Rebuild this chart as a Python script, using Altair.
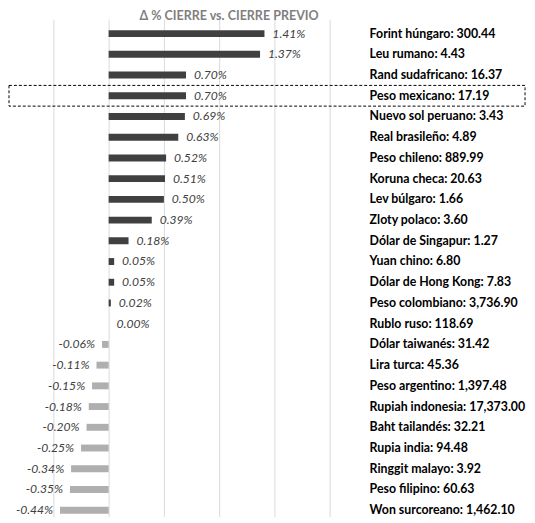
import altair as alt
import pandas as pd

names = ["Forint húngaro", "Leu rumano", "Rand sudafricano", "Peso mexicano",
         "Nuevo sol peruano", "Real brasileño", "Peso chileno", "Koruna checa",
         "Lev búlgaro", "Zloty polaco", "Dólar de Singapur", "Yuan chino",
         "Dólar de Hong Kong", "Peso colombiano", "Rublo ruso", "Dólar taiwanés",
         "Lira turca", "Peso argentino", "Rupiah indonesia", "Baht tailandés",
         "Rupia india", "Ringgit malayo", "Peso filipino", "Won surcoreano"]
prices = [300.44, 4.43, 16.37, 17.19, 3.43, 4.89, 889.99, 20.63, 1.66, 3.60,
          1.27, 6.80, 7.83, 3736.90, 118.69, 31.42, 45.36, 1397.48, 17373.00,
          32.21, 94.48, 3.92, 60.63, 1462.10]
changes = [1.41, 1.37, 0.70, 0.70, 0.69, 0.63, 0.52, 0.51, 0.50, 0.39, 0.18,
           0.05, 0.05, 0.02, 0.00, -0.06, -0.11, -0.15, -0.18, -0.20, -0.25,
           -0.34, -0.35, -0.44]
highlight = "Peso mexicano"
title_text = "Δ % CIERRE vs. CIERRE PREVIO"
grid_values = [-0.5, 0, 0.5, 1.0, 1.5, 2.0]

labels = [f"{n}: {p:,.2f}" for n, p in zip(names, prices)]
df = pd.DataFrame({
    "name": names,
    "label": labels,
    "change": changes,
    "pct": [f"{c:.2f}%" for c in changes],
})

FONT = "Lato"

base = alt.Chart(df).encode(
    y=alt.Y("label:N", sort=labels,
            scale=alt.Scale(range=[0, 504], paddingInner=0, paddingOuter=0),
            axis=alt.Axis(orient="right", title=None, grid=False, ticks=False,
                          domain=False, labelFont=FONT, labelFontSize=12.5,
                          labelFontWeight="bold", labelColor="#000000",
                          labelAlign="left", labelPadding=40, labelLimit=400,
                          labelBaseline="middle")),
    x=alt.X("change:Q",
            scale=alt.Scale(domain=[-0.5, 2.0], nice=False, zero=False),
            axis=alt.Axis(values=grid_values, grid=True, labels=False,
                          ticks=False, domain=False, title=None,
                          gridColor="#d9d9d9", gridWidth=1)),
)

bars = base.mark_bar(size=7).encode(
    color=alt.condition(alt.datum.change >= 0, alt.value("#404040"),
                        alt.value("#afafaf"))
)

pos_text = base.transform_filter(alt.datum.change >= 0).mark_text(
    align="left", baseline="middle", dx=8, font=FONT, fontSize=12.3,
    fontStyle="italic", color="#404040"
).encode(text="pct:N")

neg_text = base.transform_filter(alt.datum.change < 0).mark_text(
    align="right", baseline="middle", dx=-7, font=FONT, fontSize=12.3,
    fontStyle="italic", color="#404040"
).encode(text="pct:N")

box = base.transform_filter(alt.datum.name == highlight).mark_rect(
    fillOpacity=0, stroke="#000000", strokeWidth=1, strokeDash=[3, 2]
).encode(x=alt.value(-45), x2=alt.value(478))

chart = alt.layer(bars, pos_text, neg_text, box).properties(
    width=280, height=500,
    title=alt.TitleParams(title_text, font=FONT, fontSize=12.7, fontWeight="bold",
                          color="#7f7f7f", anchor="middle", dx=38, offset=1),
    autosize=alt.AutoSizeParams(type="none"),
    padding={"left": 46, "top": 12, "right": 200, "bottom": 0},
).configure_view(stroke=None)

chart.save("out.html", embed_options={"renderer": "svg", "actions": False})
